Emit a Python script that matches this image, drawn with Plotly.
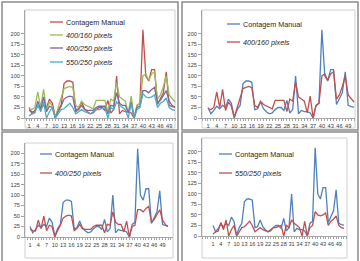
import plotly.graph_objects as go

idx = list(range(1, 52))
manual = [25, 10, 18, 28, 22, 30, 25, 45, 35, 2,
          20, 30, 82, 88, 88, 85, 20, 22, 38, 22,
          15, 10, 12, 20, 25, 25, 18, 42, 12, 20,
          100, 10, 18, 15, 15, 12, 0, 30, 35, 210,
          100, 88, 115, 115, 32, 45, 60, 110, 30, 27, 26]
p400_160 = [22, 20, 25, 62, 25, 68, 18, 38, 28, 0,
            25, 50, 70, 73, 75, 72, 30, 25, 40, 32,
            28, 25, 22, 42, 42, 42, 42, 15, 45, 40,
            85, 50, 45, 40, 12, 52, 0, 30, 35, 100,
            105, 90, 105, 110, 45, 55, 75, 100, 55, 45, 38]
p400_250 = [18, 15, 14, 40, 20, 50, 15, 28, 25, 0,
            15, 28, 45, 50, 52, 50, 15, 20, 30, 20,
            18, 18, 18, 25, 28, 28, 28, 10, 30, 28,
            60, 35, 30, 30, 12, 38, 0, 25, 28, 65,
            65, 60, 68, 73, 35, 42, 55, 65, 40, 30, 25]
p550_250 = [5, 10, 12, 32, 15, 38, 0, 15, 25, 0,
            10, 20, 22, 28, 35, 25, 10, 15, 20, 15,
            12, 10, 15, 20, 20, 22, 25, 0, 25, 20,
            38, 30, 25, 20, 0, 35, 0, 20, 25, 58,
            50, 48, 50, 55, 25, 35, 40, 48, 25, 20, 18]
xtick_vals = list(range(1, 50, 3))
ytick_vals = list(range(0, 201, 25))

W, H = 360, 261
RED, GREEN, PURPLE, CYAN, BLUE = "#C0504D", "#9BBB59", "#8064A2", "#4BACC6", "#4F81BD"
FONT = "Liberation Sans, Arial, sans-serif"


def fx(x):
    return x / W


def fy(y):
    return 1 - y / H


panels = [
    dict(xd=(25, 176), yd=(10, 118), xr=(-0.37, 51.34), yr=(0, 257),
         frame=(2, 2, 178, 130), box=(25, 10, 175, 128),
         series=[("Contagem Manual", manual, RED), ("400/160 pixels", p400_160, GREEN),
                 ("400/250 pixels", p400_250, PURPLE), ("550/250 pixels", p550_250, CYAN)],
         leg=(50, 63, [22, 35, 48, 62])),
    dict(xd=(202, 355), yd=(10, 118), xr=(-1.05, 51.34), yr=(0, 257),
         frame=(182, 2, 358, 130), box=(202, 10, 355, 128),
         series=[("Contagem Manual", manual, BLUE), ("400/160 pixels", p400_160, RED)],
         leg=(227, 240, [24, 42])),
    dict(xd=(25, 173), yd=(143, 237), xr=(-0.81, 52.8), yr=(0, 224),
         frame=(2, 132, 178, 263), box=(25, 143, 173, 258),
         series=[("Contagem Manual", manual, BLUE), ("400/250 pixels", p400_250, RED)],
         leg=(40, 52, [154, 173])),
    dict(xd=(202, 347), yd=(138, 236), xr=(-3.2, 52.15), yr=(0, 233),
         frame=(182, 132, 358, 263), box=(202, 138, 347, 258),
         series=[("Contagem Manual", manual, BLUE), ("550/250 pixels", p550_250, RED)],
         leg=(219, 232, [154, 173])),
]

fig = go.Figure()
shapes = []
annotations = []
layout = {}

for k, p in enumerate(panels, start=1):
    sx = "" if k == 1 else str(k)
    xa, ya = "x" + sx, "y" + sx
    for name, vals, col in p["series"]:
        fig.add_trace(go.Scatter(x=idx, y=vals, mode="lines", name=name,
                                 line=dict(color=col, width=1.3),
                                 xaxis=xa, yaxis=ya, showlegend=False,
                                 hoverinfo="skip"))
    layout["xaxis" + sx] = dict(
        domain=[fx(p["xd"][0]), fx(p["xd"][1])], range=list(p["xr"]), anchor=ya,
        tickmode="array", tickvals=xtick_vals, ticktext=[str(v) for v in xtick_vals],
        tickangle=0, automargin=False,
        showgrid=False, zeroline=False, showline=True, linecolor="#A6A6A6", linewidth=1,
        ticks="outside", ticklen=2, tickcolor="#A6A6A6",
        minor=dict(dtick=1, tick0=1, ticks="outside", ticklen=2, tickcolor="#A6A6A6", showgrid=False),
        tickfont=dict(size=5.6, color="#404040", family=FONT), fixedrange=True)
    layout["yaxis" + sx] = dict(
        domain=[fy(p["yd"][1]), fy(p["yd"][0])], range=list(p["yr"]), anchor=xa,
        tickmode="array", tickvals=ytick_vals, ticktext=[str(v) for v in ytick_vals],
        automargin=False,
        showgrid=False, zeroline=False, showline=True, linecolor="#A6A6A6", linewidth=1,
        ticks="outside", ticklen=3, tickcolor="#A6A6A6",
        tickfont=dict(size=5.6, color="#404040", family=FONT), fixedrange=True)
    fx0, fy0, fx1, fy1 = p["frame"]
    shapes.append(dict(type="rect", xref="paper", yref="paper",
                       x0=fx(fx0), x1=fx(fx1), y0=fy(fy1), y1=fy(fy0),
                       line=dict(color="#8C8C8C", width=1.5), layer="below"))
    bx0, by0, bx1, by1 = p["box"]
    shapes.append(dict(type="rect", xref="paper", yref="paper",
                       x0=fx(bx0), x1=fx(bx1), y0=fy(by1), y1=fy(by0),
                       line=dict(color="#D0D0D0", width=1), layer="below"))
    lx0, lx1, lys = p["leg"]
    for (name, vals, col), ly in zip(p["series"], lys):
        shapes.append(dict(type="line", xref="paper", yref="paper",
                           x0=fx(lx0), x1=fx(lx1), y0=fy(ly), y1=fy(ly),
                           line=dict(color=col, width=1.3)))
        txt = name if name == "Contagem Manual" else "<i>" + name + "</i>"
        annotations.append(dict(xref="paper", yref="paper", x=fx(lx1 + 0.5), y=fy(ly),
                                text=txt, showarrow=False, xanchor="left", yanchor="middle",
                                font=dict(size=7.2, color="#262626", family=FONT)))

fig.update_layout(width=W, height=H, margin=dict(l=0, r=0, t=0, b=0),
                  paper_bgcolor="white", plot_bgcolor="white",
                  shapes=shapes, annotations=annotations, showlegend=False, **layout)

fig.write_html("out.html")
